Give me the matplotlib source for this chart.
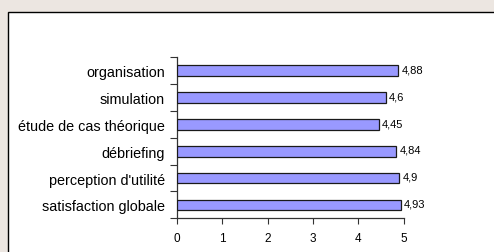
import matplotlib
matplotlib.use("Agg")
import matplotlib.pyplot as plt
from matplotlib.patches import Rectangle
import numpy as np

categories = ["satisfaction globale", "perception d'utilité", "débriefing",
              "étude de cas théorique", "simulation", "organisation"]
values = [4.93, 4.9, 4.84, 4.45, 4.6, 4.88]
value_labels = ["4,93", "4,9", "4,84", "4,45", "4,6", "4,88"]
xticks = [0, 1, 2, 3, 4, 5]

plt.rcParams['font.family'] = ['Liberation Sans', 'DejaVu Sans']

W, H = 494, 253
fig = plt.figure(figsize=(W / 100, H / 100), dpi=100)
fig.patch.set_facecolor('#ece6e1')

# white panel with black border
panel = Rectangle((7.5 / W, -0.1), 1.2, 1 - 12.5 / H + 0.1, transform=fig.transFigure,
                  facecolor='white', edgecolor='black', linewidth=1.0, zorder=-5)
fig.patches.append(panel)

ax = fig.add_axes([176.7 / W, 1 - 219.3 / H, 227 / W, 161 / H])
ax.set_zorder(2)
ax.set_facecolor('none')

y = np.arange(len(categories))
ax.barh(y, values, height=0.40, color='#9999ff', edgecolor='#1a1a1a', linewidth=0.9, zorder=3)

for yi, v, lab in zip(y, values, value_labels):
    ax.text(v + 0.07, yi + 0.05, lab, fontsize=8, va='center', ha='left', color='black')

ax.set_xlim(0, 5)
ax.set_ylim(-0.5, len(categories) - 0.5)

ax.set_xticks(xticks)
ax.set_xticklabels([str(t) for t in xticks], fontsize=8.5)
ax.tick_params(axis='x', direction='out', length=4, width=0.8, pad=6, color='#333333')

ax.set_yticks(np.arange(-0.5, len(categories), 1.0))
ax.set_yticklabels([])
ax.tick_params(axis='y', which='major', direction='out', length=5, width=0.8, color='#333333')
ax.set_yticks(y, minor=True)
ax.set_yticklabels(categories, minor=True, fontsize=10.4)
ax.tick_params(axis='y', which='minor', length=0, pad=8.5)

for s in ['top', 'right']:
    ax.spines[s].set_visible(False)
for s in ['left', 'bottom']:
    ax.spines[s].set_color('#333333')
    ax.spines[s].set_linewidth(0.9)

fig.savefig('out.png', dpi=100, facecolor=fig.get_facecolor())
